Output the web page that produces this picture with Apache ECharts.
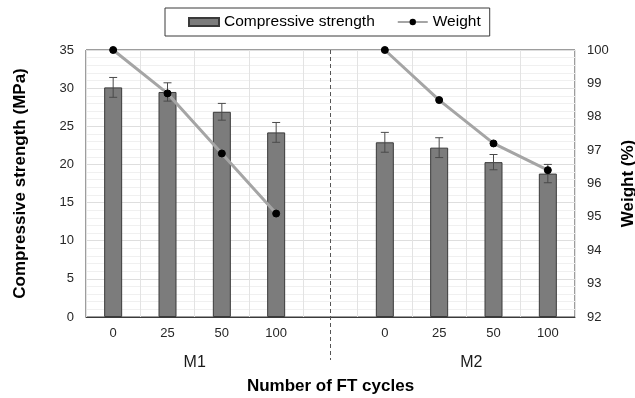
<!DOCTYPE html>
<html>
<head>
<meta charset="utf-8">
<script src="https://cdn.jsdelivr.net/npm/echarts@6/dist/echarts.min.js"></script>
<style>html,body{margin:0;padding:0;background:#fff;}#c{width:635px;height:398px;}</style>
</head>
<body>
<div id="c"></div>
<script>
const categories = ['0', '25', '50', '100', '', '0', '25', '50', '100'];
const groupLabels = ['M1', 'M2'];
const strengthM1 = [30.1, 29.5, 26.9, 24.2];
const strengthM2 = [22.9, 22.2, 20.3, 18.8];
const errorM1 = [1.3, 1.2, 1.1, 1.3];
const errorM2 = [1.3, 1.3, 1.0, 1.2];
const weightM1 = [100, 98.7, 96.9, 95.1];
const weightM2 = [100, 98.5, 97.2, 96.4];
const leftTicks = [0, 35, 5];
const rightTicks = [92, 100, 1];

const FONT = '"Liberation Sans", Arial, sans-serif';
const strength = [...strengthM1, '-', ...strengthM2];
const weight = [...weightM1, '-', ...weightM2];
const errs = [...errorM1, null, ...errorM2];
const errData = [];
strength.forEach((v, i) => { if (v !== '-') errData.push([i, v + errs[i], v - errs[i]]); });

const chart = echarts.init(document.getElementById('c'));
chart.setOption({
  animation: false,
  backgroundColor: '#fff',
  textStyle: { fontFamily: FONT },
  legend: {
    left: 165, top: 8,
    padding: [6, 9, 6, 23],
    borderColor: '#3a3a3a', borderWidth: 1,
    itemWidth: 30, itemHeight: 8, itemGap: 22,
    textStyle: { fontFamily: FONT, fontSize: 15.5, color: '#000' },
    data: [{ name: 'Compressive strength', icon: 'rect' }, { name: 'Weight' }]
  },
  grid: { left: 86, right: 60, top: 50, bottom: 81, show: true, borderColor: '#3a3a3a', borderWidth: 1, outerBoundsMode: 'none', containLabel: false },
  xAxis: {
    type: 'category', data: categories,
    axisLine: { show: true, lineStyle: { color: '#3a3a3a' } },
    axisTick: { show: false },
    axisLabel: { margin: 10, fontSize: 13, color: '#262626', fontFamily: FONT, interval: 0 },
    splitLine: { show: true, interval: 0, lineStyle: { color: '#e3e3e3' } },
    name: 'Number of FT cycles', nameLocation: 'middle', nameGap: 61,
    nameTextStyle: { fontSize: 17, fontWeight: 'bold', color: '#000', fontFamily: FONT }
  },
  yAxis: [{
    type: 'value', min: leftTicks[0], max: leftTicks[1], interval: leftTicks[2],
    axisLine: { show: false }, axisTick: { show: false },
    axisLabel: { margin: 12, fontSize: 13, color: '#262626', fontFamily: FONT },
    splitLine: { show: true, lineStyle: { color: '#dedede' } },
    minorTick: { show: false, splitNumber: 5 },
    minorSplitLine: { show: true, lineStyle: { color: '#f0f0f0' } },
    name: 'Compressive strength (MPa)', nameLocation: 'middle', nameGap: 57, nameRotate: 90,
    nameTextStyle: { fontSize: 17, fontWeight: 'bold', color: '#000', fontFamily: FONT }
  }, {
    type: 'value', min: rightTicks[0], max: rightTicks[1], interval: rightTicks[2],
    position: 'right',
    axisLine: { show: false }, axisTick: { show: false },
    axisLabel: { margin: 12, fontSize: 13, color: '#262626', fontFamily: FONT },
    splitLine: { show: false },
    name: 'Weight (%)', nameLocation: 'middle', nameGap: 42, nameRotate: 90,
    nameTextStyle: { fontSize: 17, fontWeight: 'bold', color: '#000', fontFamily: FONT }
  }],
  series: [{
    name: 'Compressive strength', type: 'bar', data: strength, barWidth: 18,
    itemStyle: { color: '#7c7c7c', borderColor: '#3a3a3a', borderWidth: 1 }, z: 2
  }, {
    name: 'errors', type: 'custom', data: errData, z: 3,
    renderItem: function (params, api) {
      const i = api.value(0);
      const hi = api.coord([i, api.value(1)]);
      const lo = api.coord([i, api.value(2)]);
      const h = 4;
      const st = { stroke: '#4a4a4a', lineWidth: 1 };
      return { type: 'group', children: [
        { type: 'line', shape: { x1: hi[0], y1: hi[1], x2: lo[0], y2: lo[1] }, style: st },
        { type: 'line', shape: { x1: hi[0] - h, y1: hi[1], x2: hi[0] + h, y2: hi[1] }, style: st },
        { type: 'line', shape: { x1: lo[0] - h, y1: lo[1], x2: lo[0] + h, y2: lo[1] }, style: st }
      ] };
    }
  }, {
    name: 'Weight', type: 'line', yAxisIndex: 1, data: weight, connectNulls: false,
    symbol: 'circle', symbolSize: 7,
    lineStyle: { color: '#a5a5a5', width: 3 },
    itemStyle: { color: '#000', borderColor: '#000' }, z: 4
  }]
});

function addDecor() {
  const xDiv = chart.convertToPixel({ xAxisIndex: 0 }, 4);
  const yTop = chart.convertToPixel({ yAxisIndex: 0 }, leftTicks[1]);
  const yBot = chart.convertToPixel({ yAxisIndex: 0 }, leftTicks[0]);
  const m1x = (chart.convertToPixel({ xAxisIndex: 0 }, 1) + chart.convertToPixel({ xAxisIndex: 0 }, 2)) / 2;
  const m2x = (chart.convertToPixel({ xAxisIndex: 0 }, 6) + chart.convertToPixel({ xAxisIndex: 0 }, 7)) / 2 + 5;
  chart.setOption({
    graphic: [
      { type: 'line', shape: { x1: xDiv, y1: yTop, x2: xDiv, y2: yBot + 43 }, style: { stroke: '#555', lineWidth: 1, lineDash: [4, 3] }, z: 10 },
      { type: 'text', x: m1x, y: yBot + 46, style: { text: groupLabels[0], fontSize: 16, fontFamily: FONT, fill: '#1a1a1a', textAlign: 'center', textVerticalAlign: 'middle' } },
      { type: 'text', x: m2x, y: yBot + 46, style: { text: groupLabels[1], fontSize: 16, fontFamily: FONT, fill: '#1a1a1a', textAlign: 'center', textVerticalAlign: 'middle' } }
    ]
  });
}
addDecor();
</script>
</body>
</html>
